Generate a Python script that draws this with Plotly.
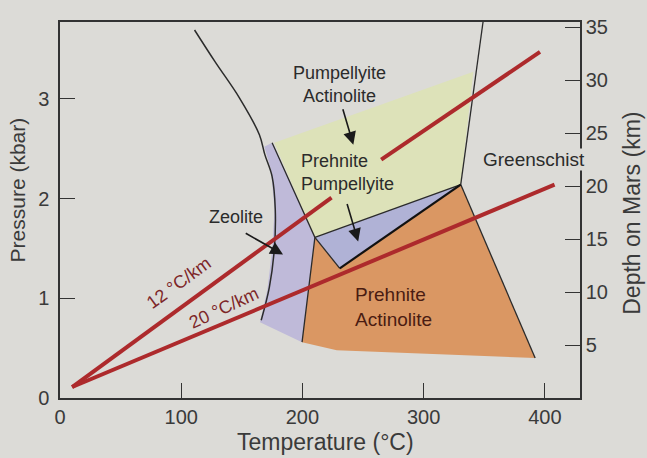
import plotly.graph_objects as go

# ---------------- data ----------------
x_ticks = [0, 100, 200, 300, 400]
p_ticks = [0, 1, 2, 3]
depth_ticks = [5, 10, 15, 20, 25, 30, 35]

# zeolite boundary curve (T in C, P in kbar)
zeo_T = [111, 128, 148, 164.5, 169, 175, 177.6, 176.8, 172.7, 166]
zeo_P = [3.69, 3.37, 3.01, 2.64, 2.44, 2.22, 1.89, 1.49, 1.11, 0.78]

# facies fields
zeolite_T = [168.6, 175, 210.3, 199.7, 165, 171, 175, 177, 174]
zeolite_P = [2.52, 2.56, 1.61, 0.56, 0.76, 1.08, 1.48, 1.89, 2.29]

pump_act_T = [176.8, 341, 330.6, 210.3]
pump_act_P = [2.56, 3.27, 2.14, 1.61]

preh_pump_T = [210.3, 330.6, 230.8]
preh_pump_P = [1.61, 2.14, 1.30]

preh_act_T = [210.3, 230.8, 330.6, 392, 228.3, 199.7]
preh_act_P = [1.61, 1.30, 2.14, 0.40, 0.48, 0.56]

# boundary lines
thin_T = [175, 210.3, 199.7, None, 210.3, 330.6, None, 210.3, 230.8, None,
          330.6, 349, None, 330.6, 392]
thin_P = [2.56, 1.61, 0.56, None, 1.61, 2.14, None, 1.61, 1.30, None,
          2.14, 3.77, None, 2.14, 0.40]
thick_T = [230.8, 330.6]
thick_P = [1.30, 2.14]

# geotherms
g12_T = [10, 224, None, 265, 396]
g12_P = [0.11, 2.01, None, 2.39, 3.47]
g20_T = [10, 408]
g20_P = [0.11, 2.14]

T_MAX = 429
P_MAX = 3.77
DEPTH_MAX = 35.5

# ---------------- colours ----------------
BG = "#dcdbd7"
GREEN = "#dde2b9"
LAV = "#bfbad9"
BLUE = "#b0b2d6"
ORANGE = "#da9763"
RED = "#ad2a2c"
INK = "#2b2b2b"
FONT = "Liberation Sans, Arial, sans-serif"

fig = go.Figure()

def poly(T, P, color):
    fig.add_trace(go.Scatter(x=T, y=P, fill="toself", fillcolor=color,
                             mode="none", hoverinfo="skip", showlegend=False))

poly(zeolite_T, zeolite_P, LAV)
poly(pump_act_T, pump_act_P, GREEN)
poly(preh_pump_T, preh_pump_P, BLUE)
poly(preh_act_T, preh_act_P, ORANGE)

fig.add_trace(go.Scatter(x=zeo_T, y=zeo_P, mode="lines",
                         line=dict(color=INK, width=1.5, shape="spline"),
                         hoverinfo="skip", showlegend=False))
fig.add_trace(go.Scatter(x=thin_T, y=thin_P, mode="lines",
                         line=dict(color=INK, width=1.3),
                         hoverinfo="skip", showlegend=False))
fig.add_trace(go.Scatter(x=thick_T, y=thick_P, mode="lines",
                         line=dict(color="#111111", width=2.2),
                         hoverinfo="skip", showlegend=False))
fig.add_trace(go.Scatter(x=g12_T, y=g12_P, mode="lines",
                         line=dict(color=RED, width=4),
                         hoverinfo="skip", showlegend=False))
fig.add_trace(go.Scatter(x=g20_T, y=g20_P, mode="lines",
                         line=dict(color=RED, width=4),
                         hoverinfo="skip", showlegend=False))

# dummy trace for right axis
fig.add_trace(go.Scatter(x=[None], y=[None], yaxis="y2", showlegend=False))

anns = []
def label(x, y, text, color=INK, size=18, align="center", xanchor="center",
          angle=0, bg=None):
    d = dict(x=x, y=y, xref="x", yref="y", text=text, showarrow=False,
             font=dict(family=FONT, size=size, color=color),
             align=align, xanchor=xanchor, yanchor="middle", textangle=angle)
    if bg:
        d["bgcolor"] = bg
        d["borderpad"] = 0
    anns.append(d)

def arrow(x0, y0, x1, y1):
    anns.append(dict(x=x1, y=y1, ax=x0, ay=y0, xref="x", yref="y",
                     axref="x", ayref="y", text="", showarrow=True,
                     arrowhead=2, arrowsize=1.6, arrowwidth=1.6,
                     arrowcolor="#1a1a1a"))

label(230.8, 3.14, "Pumpellyite<br>Actinolite")
label(197, 2.26, "Prehnite<br>Pumpellyite", align="left", xanchor="left")
label(145, 1.81, "Zeolite")
label(391, 2.39, "Greenschist", size=19, bg=BG)
label(242, 0.91, "Prehnite<br>Actinolite", color="#4a1c12", size=19,
      align="left", xanchor="left")
label(98, 1.15, "12 °C/km", color="#7d2628", size=18, angle=-36)
label(135, 0.90, "20 °C/km", color="#7d2628", size=18, angle=-25)

arrow(233, 2.91, 242, 2.54)
arrow(236.5, 1.96, 246, 1.57)
arrow(152, 1.66, 184, 1.44)

# axis titles as paper annotations
title_font = dict(family=FONT, size=23, color="#3a3a3a")
anns.append(dict(x=0.51, y=-0.078, xref="paper", yref="paper", yanchor="top",
                 text="Temperature (°C)", showarrow=False, font=title_font))
anns.append(dict(x=-0.082, y=0.553, xref="paper", yref="paper", xanchor="center",
                 text="Pressure (kbar)", showarrow=False,
                 font=dict(family=FONT, size=21, color="#3a3a3a"), textangle=-90))
anns.append(dict(x=1.10, y=0.49, xref="paper", yref="paper", xanchor="center",
                 text="Depth on Mars (km)", showarrow=False, font=title_font,
                 textangle=-90))

axis_font = dict(family=FONT, size=20, color="#3a3a3a")

fig.update_layout(
    width=647, height=458,
    margin=dict(l=60, r=67, t=22, b=60),
    paper_bgcolor=BG, plot_bgcolor=BG,
    annotations=anns,
    showlegend=False,
    xaxis=dict(range=[0, T_MAX], tickvals=x_ticks, ticks="inside", ticklen=15,
               tickcolor="#333", showgrid=False, zeroline=False, showline=True,
               linecolor="#333", linewidth=1.5, mirror=True, tickfont=axis_font,
               automargin=False),
    yaxis=dict(range=[0, P_MAX], tickvals=p_ticks, ticks="inside", ticklen=15,
               tickcolor="#333", showgrid=False, zeroline=False, showline=True,
               linecolor="#333", linewidth=1.5, tickfont=axis_font,
               ticklabelstandoff=5, automargin=False),
    yaxis2=dict(range=[0, DEPTH_MAX], tickvals=depth_ticks, ticks="inside",
                ticklen=15, tickcolor="#333", overlaying="y", side="right",
                showgrid=False, zeroline=False, showline=True, linecolor="#333",
                linewidth=1.5, tickfont=axis_font, automargin=False),
)

fig.write_html("out.html", config={"displayModeBar": False},
               post_script="document.body.style.margin='0';document.body.style.overflow='hidden';")
